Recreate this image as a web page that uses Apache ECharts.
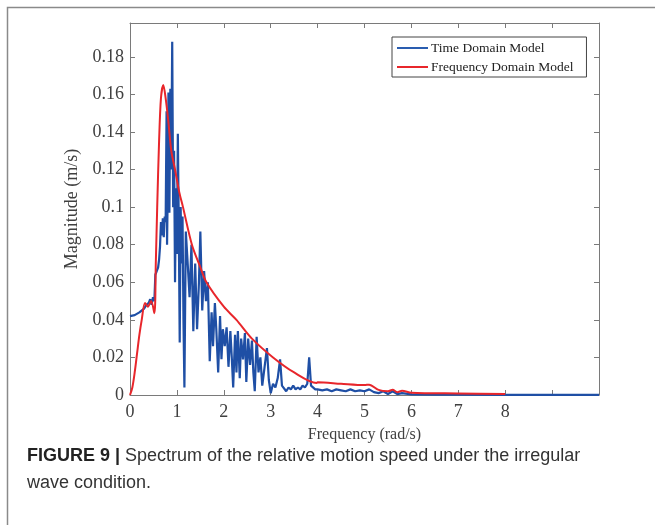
<!DOCTYPE html>
<html><head><meta charset="utf-8">
<script src="https://cdn.jsdelivr.net/npm/echarts@6/dist/echarts.min.js"></script>
<style>html,body{margin:0;padding:0;background:#fff}#c{width:655px;height:525px}</style>
</head><body><div id="c"></div>
<script>
// ---- data ----
const seriesNames = ['Time Domain Model', 'Frequency Domain Model'];
const xTickLabels = ['0','1','2','3','4','5','6','7','8','',''];
const yTickLabels = ['0','0.02','0.04','0.06','0.08','0.1','0.12','0.14','0.16','0.18'];

const blueX = [0,0.1,0.2,0.3,0.35,0.4,0.43,0.46,0.49,0.52,0.54,0.57,0.6,0.62,0.64,0.66,0.68,0.7,0.72,0.74,0.76,0.78,0.79,0.8,0.82,0.84,0.86,0.88,0.9,0.92,0.94,0.96,0.98,1.0,1.02,1.04,1.06,1.08,1.1,1.12,1.14,1.16,1.19,1.23,1.27,1.31,1.35,1.39,1.43,1.47,1.5,1.54,1.58,1.62,1.66,1.7,1.74,1.77,1.81,1.84,1.88,1.92,1.95,1.98,2.02,2.06,2.1,2.14,2.17,2.2,2.24,2.27,2.3,2.34,2.37,2.41,2.45,2.48,2.52,2.56,2.6,2.63,2.66,2.7,2.74,2.78,2.82,2.87,2.92,2.96,3.0,3.05,3.1,3.15,3.2,3.24,3.28,3.33,3.38,3.43,3.48,3.53,3.58,3.63,3.68,3.73,3.78,3.82,3.86,3.9,3.95,4.0,4.1,4.2,4.3,4.4,4.5,4.6,4.7,4.8,4.9,5.0,5.1,5.2,5.3,5.4,5.5,5.6,5.7,5.8,6.0,6.5,7.0,8.0,9.0,10.0];
const blueY = [0.042,0.0425,0.044,0.046,0.048,0.049,0.051,0.048,0.052,0.05,0.064,0.066,0.068,0.072,0.079,0.092,0.085,0.094,0.084,0.095,0.092,0.151,0.08,0.1,0.161,0.097,0.163,0.12,0.188,0.1,0.13,0.06,0.11,0.075,0.139,0.09,0.028,0.1,0.07,0.095,0.04,0.004,0.087,0.07,0.052,0.08,0.034,0.07,0.035,0.06,0.087,0.045,0.066,0.05,0.06,0.018,0.044,0.026,0.049,0.035,0.012,0.042,0.019,0.035,0.026,0.036,0.015,0.034,0.02,0.004,0.032,0.012,0.034,0.009,0.03,0.019,0.033,0.007,0.03,0.016,0.029,0.012,0.002,0.031,0.012,0.02,0.005,0.015,0.025,0.008,0.001,0.006,0.004,0.009,0.019,0.005,0.004,0.002,0.004,0.003,0.005,0.003,0.004,0.003,0.005,0.004,0.006,0.02,0.005,0.004,0.003,0.003,0.0025,0.003,0.002,0.003,0.0025,0.002,0.003,0.002,0.0025,0.002,0.003,0.0015,0.001,0.002,0.0005,0.002,0.0005,0.001,0.0003,0.0002,0.0002,0.0001,0.0001,0.0001];

const redX = [0,0.05,0.1,0.15,0.2,0.25,0.32,0.38,0.45,0.52,0.55,0.58,0.62,0.66,0.71,0.76,0.82,0.88,0.96,1.05,1.13,1.32,1.5,1.63,2.0,2.27,2.6,3.05,3.5,3.98,4.0,4.5,5.0,5.1,5.3,5.5,5.6,5.7,5.8,6.0,7.0,8.0];
const redY = [0,0.004,0.012,0.022,0.032,0.04,0.049,0.047,0.05,0.0435,0.07,0.1,0.135,0.158,0.165,0.158,0.145,0.13,0.12,0.108,0.1,0.08,0.068,0.06,0.047,0.04,0.03,0.02,0.012,0.0064,0.0068,0.006,0.0053,0.0055,0.0027,0.002,0.0028,0.0015,0.0022,0.0012,0.0008,0.0005];

const blueData = blueX.map((x, i) => [x, blueY[i]]);
const redData = redX.map((x, i) => [x, redY[i]]);

const serif = 'Liberation Serif, Times New Roman, serif';
const sans = 'Liberation Sans, Arial, sans-serif';
const axisGray = '#7a7a7a';
const labelGray = '#404040';

const chart = echarts.init(document.getElementById('c'), null, {renderer: 'canvas'});
chart.setOption({
  animation: false,
  backgroundColor: '#fff',
  grid: {left: 130, right: 56, top: 23, bottom: 130, show: false},
  title: {
    left: 22, top: 438,
    text: '{b|FIGURE 9 |} {n|Spectrum of the relative motion speed under the irregular}\n{n|wave condition.}',
    textStyle: {
      fontWeight: 'normal',
      rich: {
        b: {fontFamily: sans, fontWeight: 'bold', fontSize: 18, color: '#222', lineHeight: 27},
        n: {fontFamily: sans, fontWeight: 'normal', fontSize: 18, color: '#333', lineHeight: 27}
      }
    }
  },
  legend: {
    left: 392, top: 37,
    orient: 'vertical',
    data: seriesNames,
    icon: 'rect', itemWidth: 31, itemHeight: 2, itemGap: 5,
    borderColor: '#444', borderWidth: 1, padding: [4, 13, 3, 5],
    textStyle: {fontFamily: serif, fontSize: 13.5, color: '#222', padding: [0,0,0,-2]}
  },
  xAxis: [{
    type: 'value', min: 0, max: 10, interval: 1,
    name: 'Frequency (rad/s)', nameLocation: 'middle', nameGap: 32,
    nameTextStyle: {fontFamily: serif, fontSize: 16, color: labelGray},
    axisLine: {show: true, onZero: false, lineStyle: {color: axisGray, width: 1}},
    axisTick: {show: true, inside: true, length: 5, lineStyle: {color: axisGray}},
    axisLabel: {fontFamily: serif, fontSize: 18, color: labelGray, margin: 8,
      formatter: v => xTickLabels[Math.round(v)] || ''},
    splitLine: {show: false}
  }, {
    type: 'value', min: 0, max: 10, interval: 1, position: 'top',
    axisLine: {show: true, onZero: false, lineStyle: {color: axisGray, width: 1}},
    axisTick: {show: true, inside: true, length: 5, lineStyle: {color: axisGray}},
    axisLabel: {show: false}, splitLine: {show: false}
  }],
  yAxis: [{
    type: 'value', min: 0, max: 0.198, interval: 0.02,
    name: 'Magnitude (m/s)', nameLocation: 'middle', nameGap: 46, nameRotate: 90,
    nameTextStyle: {fontFamily: serif, fontSize: 18, color: labelGray},
    axisLine: {show: true, onZero: false, lineStyle: {color: axisGray, width: 1}},
    axisTick: {show: true, inside: true, length: 5, lineStyle: {color: axisGray}},
    axisLabel: {fontFamily: serif, fontSize: 18, color: labelGray, margin: 6, showMaxLabel: false,
      formatter: v => yTickLabels[Math.round(v / 0.02)] || ''},
    splitLine: {show: false}
  }, {
    type: 'value', min: 0, max: 0.198, interval: 0.02, position: 'right',
    axisLine: {show: true, onZero: false, lineStyle: {color: axisGray, width: 1}},
    axisTick: {show: true, inside: true, length: 5, lineStyle: {color: axisGray}},
    axisLabel: {show: false}, splitLine: {show: false}
  }],
  graphic: [{
    type: 'rect', silent: true, z: -1,
    shape: {x: 7.5, y: 7.5, width: 700, height: 700},
    style: {fill: 'none', stroke: '#8a8a8a', lineWidth: 1.5}
  }],
  series: [{
    name: seriesNames[0], type: 'line', data: blueData, symbol: 'none',
    xAxisIndex: 0, yAxisIndex: 0,
    lineStyle: {color: '#1f4fa5', width: 2.2}, itemStyle: {color: '#2a5db0'}, z: 2
  }, {
    name: seriesNames[1], type: 'line', data: redData, symbol: 'none', smooth: 0.3,
    xAxisIndex: 0, yAxisIndex: 0,
    lineStyle: {color: '#e8262b', width: 2}, itemStyle: {color: '#e8262b'}, z: 3
  }]
});
</script>
</body></html>
